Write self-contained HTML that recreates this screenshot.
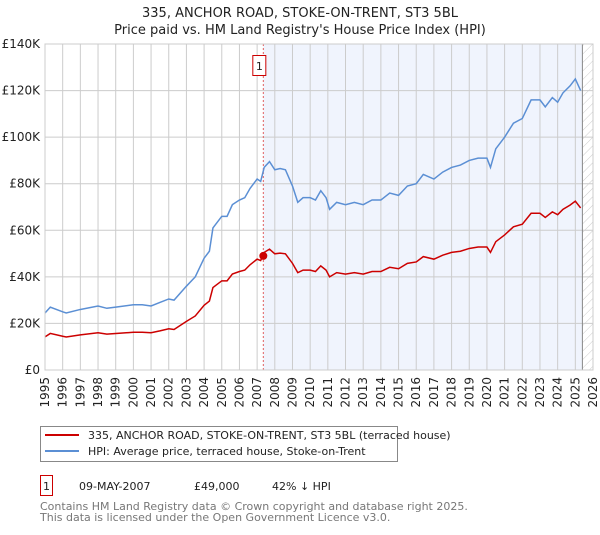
<!DOCTYPE html>
<html><head><meta charset="utf-8"><style>
body{margin:0;background:#fff;font-family:"Liberation Sans","DejaVu Sans",sans-serif;}
svg text{font-family:"DejaVu Sans","Liberation Sans",sans-serif;}
</style></head><body>
<svg id="chart" width="600" height="530" xmlns="http://www.w3.org/2000/svg">
<defs><pattern id="hatch" width="6" height="6" patternUnits="userSpaceOnUse" patternTransform="rotate(45)"><line x1="0" y1="0" x2="0" y2="6" stroke="#ccc" stroke-width="1"/></pattern></defs>
<text x="300" y="17" text-anchor="middle" font-size="13" fill="#222">335, ANCHOR ROAD, STOKE-ON-TRENT, ST3 5BL</text>
<text x="300" y="34" text-anchor="middle" font-size="13" fill="#222">Price paid vs. HM Land Registry's House Price Index (HPI)</text>
<g id="plot"></g>
<g>
<rect x="40.5" y="426.5" width="357" height="35" fill="#fff" stroke="#888"/>
<line x1="45" y1="435" x2="79" y2="435" stroke="#cc0000" stroke-width="2"/>
<text x="88" y="439" font-size="11" fill="#222">335, ANCHOR ROAD, STOKE-ON-TRENT, ST3 5BL (terraced house)</text>
<line x1="45" y1="451" x2="79" y2="451" stroke="#5b8fd4" stroke-width="2"/>
<text x="88" y="455" font-size="11" fill="#222">HPI: Average price, terraced house, Stoke-on-Trent</text>
</g>
<g>
<rect x="40.5" y="475.5" width="12" height="20" fill="#fff" stroke="#cc0000"/>
<text x="46.5" y="490" text-anchor="middle" font-size="11" fill="#222">1</text>
<text x="79" y="490" font-size="11" fill="#222">09-MAY-2007</text>
<text x="194" y="490" font-size="11" fill="#222">£49,000</text>
<text x="272" y="490" font-size="11" fill="#222">42% ↓ HPI</text>
</g>
<text x="40" y="510" font-size="11" fill="#777">Contains HM Land Registry data © Crown copyright and database right 2025.</text>
<text x="40" y="521" font-size="11" fill="#777">This data is licensed under the Open Government Licence v3.0.</text>
</svg>
<script>
const years=[1995,1995.3,1996,1996.2,1997,1998,1998.5,1999,2000,2000.5,2001,2001.5,2002,2002.3,2003,2003.5,2004,2004.3,2004.5,2005,2005.3,2005.6,2006,2006.3,2006.6,2007,2007.2,2007.4,2007.7,2008,2008.3,2008.6,2009,2009.3,2009.6,2010,2010.3,2010.6,2010.9,2011.1,2011.5,2012,2012.5,2013,2013.5,2014,2014.5,2015,2015.5,2016,2016.4,2017,2017.5,2018,2018.5,2019,2019.5,2020,2020.2,2020.5,2021,2021.5,2022,2022.5,2023,2023.3,2023.7,2024,2024.3,2024.7,2025,2025.3];
const hpiValues=[24.5,27,25,24.5,26,27.5,26.5,27,28,28,27.5,29,30.5,30,36,40,48,51,61,66,66,71,73,74,78,82,81,87,89.5,86,86.5,86,79,72,74,74,73,77,74,69,72,71,72,71,73,73,76,75,79,80,84,82,85,87,88,90,91,91,87,95,100,106,108,116,116,113,117,115,119,122,125,120];
const priceValues=[14.2,15.7,14.5,14.2,15.1,16,15.4,15.7,16.2,16.2,16,16.8,17.7,17.4,20.9,23.2,27.8,29.6,35.4,38.3,38.3,41.2,42.3,42.9,45.2,47.6,47,50.5,51.9,49.9,50.2,49.9,45.8,41.8,42.9,42.9,42.3,44.7,42.9,40,41.8,41.2,41.8,41.2,42.3,42.3,44.1,43.5,45.8,46.4,48.7,47.6,49.3,50.5,51,52.2,52.8,52.8,50.5,55.1,58,61.5,62.6,67.3,67.3,65.5,67.9,66.7,69,70.8,72.5,69.6];
const yTicks=[0,20,40,60,80,100,120,140];
const yTickLabels=["£0","£20K","£40K","£60K","£80K","£100K","£120K","£140K"];
const xTicks=[1995,1996,1997,1998,1999,2000,2001,2002,2003,2004,2005,2006,2007,2008,2009,2010,2011,2012,2013,2014,2015,2016,2017,2018,2019,2020,2021,2022,2023,2024,2025,2026];
const saleYear=[2007.35];
const saleValue=[49];
const dataEndYear=2025.4;
const L=45,R=593,T=44,B=370;
const x=v=>L+(v-1995)/(2026-1995)*(R-L);
const y=v=>B-v/140*(B-T);
const NS="http://www.w3.org/2000/svg";
const g=document.getElementById('plot');
function mk(t,a){const e=document.createElementNS(NS,t);for(const k in a)e.setAttribute(k,a[k]);g.appendChild(e);return e;}
let e;
e=mk('rect',{x:L,y:T,width:R-L,height:B-T,fill:'#fff'});


e=mk('rect',{x:x(saleYear[0]),y:T,width:x(dataEndYear)-x(saleYear[0]),height:B-T,fill:'#f0f4fd'});


e=mk('rect',{x:x(dataEndYear),y:T,width:R-x(dataEndYear),height:B-T,fill:'url(#hatch)'});


xTicks.forEach(t=>{
 e=mk('line',{x1:x(t),x2:x(t),y1:T,y2:B,stroke:'#ccc'});
 
 
 e=mk('text',{x:0,y:0,'font-size':12,fill:'#222','text-anchor':'end',transform:`translate(${x(t)+4},${B+7}) rotate(-90)`});
 e.textContent=t;
 
 
});
yTicks.forEach((t,i)=>{
 e=mk('line',{x1:L,x2:R,y1:y(t),y2:y(t),stroke:'#ccc'});
 
 
 e=mk('text',{x:40,y:y(t)+4,'font-size':12,fill:'#222','text-anchor':'end'});
 e.textContent=yTickLabels[i];
 
 
});
e=mk('line',{x1:x(dataEndYear),x2:x(dataEndYear),y1:T,y2:B,stroke:'#888'});


e=mk('line',{x1:x(saleYear[0]),x2:x(saleYear[0]),y1:T,y2:B,stroke:'#e06060','stroke-dasharray':'2,2'});


e=mk('polyline',{points:years.map((t,i)=>x(t)+','+y(hpiValues[i])).join(' '),fill:'none',stroke:'#5b8fd4','stroke-width':1.5});


e=mk('polyline',{points:years.map((t,i)=>x(t)+','+y(priceValues[i])).join(' '),fill:'none',stroke:'#cc0000','stroke-width':1.5});


e=mk('circle',{cx:x(saleYear[0]),cy:y(saleValue[0]),r:4,fill:'#cc0000'});


e=mk('rect',{x:x(saleYear[0])-10.5,y:55.5,width:13,height:20,fill:'#fff',stroke:'#cc0000'});


e=mk('text',{x:x(saleYear[0])-4,y:70,'font-size':11,fill:'#222','text-anchor':'middle'});
e.textContent='1';


e=mk('rect',{x:L,y:T,width:R-L,height:B-T,fill:'none',stroke:'#ccc'});


</script>
</body></html>
